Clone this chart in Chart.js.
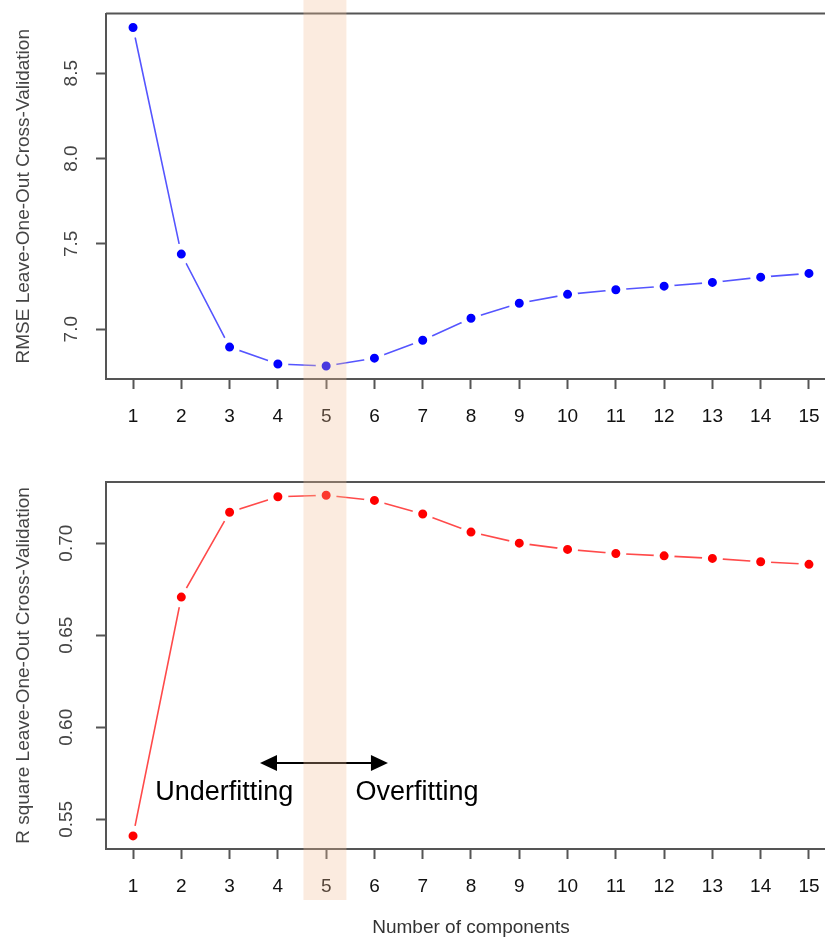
<!DOCTYPE html>
<html>
<head>
<meta charset="utf-8">
<script src="https://cdn.jsdelivr.net/npm/chart.js@4.4.1/dist/chart.umd.min.js"></script>
<style>
  html, body { margin: 0; padding: 0; background: #ffffff; }
  #wrap { position: relative; width: 825px; height: 945px; overflow: hidden; background: #fff; }
  #c1 { position: absolute; left: 0; top: 0; }
  #c2 { position: absolute; left: 0; top: 460px; }
</style>
</head>
<body>
<div id="wrap">
  <canvas id="c1" width="850" height="460"></canvas>
  <canvas id="c2" width="850" height="485"></canvas>
</div>
<script>
// ---------- data ----------
const components = [1, 2, 3, 4, 5, 6, 7, 8, 9, 10, 11, 12, 13, 14, 15];
const rmseValues = [8.768, 7.44, 6.895, 6.796, 6.784, 6.83, 6.935, 7.064, 7.152, 7.204, 7.231, 7.252, 7.274, 7.305, 7.327];
const r2Values   = [0.541, 0.6707, 0.7168, 0.7252, 0.726, 0.7232, 0.7158, 0.706, 0.700, 0.6966, 0.6944, 0.6931, 0.6917, 0.6899, 0.6885];
const rmseTicks  = [7.0, 7.5, 8.0, 8.5];
const r2Ticks    = [0.55, 0.60, 0.65, 0.70];
const highlightBand = [4.53, 5.42];
const arrowSpan  = [3.63, 6.28];
const arrowLevel = 0.5806;
const annotationLabels = ['Underfitting', 'Overfitting'];
const annotationX = [2.89, 6.88];
const annotationY = 0.5648;

const FONT = "'Liberation Sans', Arial, Helvetica, sans-serif";
const FRAME = '#555555';

function fmt(v, d) { return v.toFixed(d); }

const framePlugin = {
  id: 'frame',
  afterDatasetsDraw(chart, args, opts) {
    const ctx = chart.ctx, a = chart.chartArea;
    ctx.save();
    ctx.strokeStyle = FRAME;
    ctx.lineWidth = 2;
    ctx.beginPath();
    ctx.moveTo(a.left, a.top);
    ctx.lineTo(chart.width, a.top);
    ctx.stroke();
    ctx.restore();
    if (opts.annotate) {
      const xs = chart.scales.x, ys = chart.scales.y;
      const x0 = xs.getPixelForValue(arrowSpan[0]);
      const x1 = xs.getPixelForValue(arrowSpan[1]);
      const y = ys.getPixelForValue(arrowLevel);
      const hl = 17, hw = 8;
      ctx.save();
      ctx.strokeStyle = '#000';
      ctx.fillStyle = '#000';
      ctx.lineWidth = 2;
      ctx.beginPath();
      ctx.moveTo(x0 + hl - 2, y); ctx.lineTo(x1 - hl + 2, y); ctx.stroke();
      ctx.beginPath();
      ctx.moveTo(x0, y); ctx.lineTo(x0 + hl, y - hw); ctx.lineTo(x0 + hl, y + hw); ctx.closePath(); ctx.fill();
      ctx.beginPath();
      ctx.moveTo(x1, y); ctx.lineTo(x1 - hl, y - hw); ctx.lineTo(x1 - hl, y + hw); ctx.closePath(); ctx.fill();
      ctx.font = '27px ' + FONT;
      ctx.textAlign = 'center';
      ctx.textBaseline = 'middle';
      const ty = ys.getPixelForValue(annotationY);
      annotationLabels.forEach((t, i) => ctx.fillText(t, xs.getPixelForValue(annotationX[i]), ty));
      ctx.restore();
    }
  },
  afterDraw(chart, args, opts) {
    const ctx = chart.ctx, xs = chart.scales.x;
    const xa = xs.getPixelForValue(highlightBand[0]);
    const xb = xs.getPixelForValue(highlightBand[1]);
    ctx.save();
    ctx.fillStyle = 'rgba(242,190,150,0.30)';
    ctx.fillRect(xa, 0, xb - xa, opts.bandBottom);
    ctx.restore();
  }
};

function makeChart(id, values, ticks, yMin, yMax, decimals, lineColor, pointColor, yTitle, opts) {
  return new Chart(document.getElementById(id), {
    type: 'line',
    data: {
      datasets: [{
        data: components.map((c, i) => ({ x: c, y: values[i] })),
        borderColor: lineColor,
        borderWidth: 1.6,
        pointBackgroundColor: pointColor,
        pointBorderColor: '#ffffff',
        pointBorderWidth: 6,
        pointRadius: 7.5,
        pointHoverRadius: 7.5,
        tension: 0,
        fill: false
      }]
    },
    plugins: [framePlugin],
    options: {
      responsive: false,
      animation: false,
      events: [],
      layout: { padding: { top: opts.padTop, right: 14, bottom: 0, left: 0 } },
      plugins: {
        legend: { display: false },
        tooltip: { enabled: false },
        frame: { annotate: opts.annotate, bandBottom: opts.bandBottom }
      },
      scales: {
        x: {
          type: 'linear',
          min: 0.44, max: 15.56,
          afterBuildTicks: s => { s.ticks = components.map(v => ({ value: v })); },
          afterFit: s => { s.height = opts.xHeight; s.paddingLeft = 0; s.paddingRight = 0; },
          grid: { drawOnChartArea: false, drawTicks: true, tickLength: 10, tickWidth: 2, tickColor: FRAME },
          border: { display: true, color: FRAME, width: 2 },
          ticks: { autoSkip: false, maxRotation: 0, padding: 16, color: '#111', font: { family: FONT, size: 19 },
                   callback: v => String(v) },
          title: opts.xTitle ? { display: true, text: 'Number of components', color: '#333', font: { family: FONT, size: 19 }, padding: { top: 0, bottom: 6 } } : { display: false }
        },
        y: {
          min: yMin, max: yMax,
          afterBuildTicks: s => { s.ticks = ticks.map(v => ({ value: v })); },
          afterFit: s => { s.width = 106; s.paddingTop = 0; s.paddingBottom = 0; },
          grid: { drawOnChartArea: false, drawTicks: true, tickLength: 10, tickWidth: 2, tickColor: FRAME },
          border: { display: true, color: FRAME, width: 2 },
          ticks: { minRotation: 90, maxRotation: 90, crossAlign: 'center', padding: 11, color: '#444',
                   font: { family: FONT, size: 19 }, callback: v => fmt(v, decimals) },
          title: { display: true, text: yTitle, color: '#444', font: { family: FONT, size: 19 }, padding: { top: 12, bottom: 0 } }
        }
      }
    }
  });
}

makeChart('c1', rmseValues, rmseTicks, 6.708, 8.85, 1, '#5555ff', '#0000ff',
  'RMSE Leave-One-Out Cross-Validation', { padTop: 12, xHeight: 81, annotate: false, bandBottom: 460 });
makeChart('c2', r2Values, r2Ticks, 0.5339, 0.7332, 2, '#ff4a4a', '#ff0000',
  'R square Leave-One-Out Cross-Validation', { padTop: 22, xHeight: 96, annotate: true, bandBottom: 440, xTitle: true });
</script>
</body>
</html>
